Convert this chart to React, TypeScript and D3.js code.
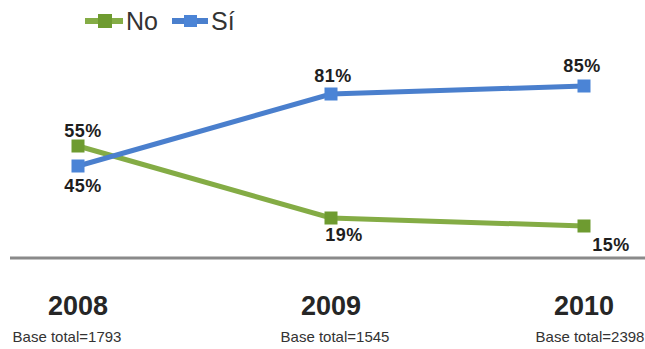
import React from "react";
import * as d3 from "d3";

const years = ["2008", "2009", "2010"];
const baseTotals = ["Base total=1793", "Base total=1545", "Base total=2398"];
const noValues = [55, 19, 15];
const siValues = [45, 81, 85];
const seriesNames = ["No", "Sí"];

const W = 645;
const H = 349;
const FONT = "'Liberation Sans', Arial, sans-serif";

const colors = {
  No: { line: "#84ac45", marker: "#6e9b30" },
  Sí: { line: "#4a7fcd", marker: "#4b84d6" },
};

// label offsets relative to the point (dx, dy to baseline)
const noLabelOffsets = [[5, -9], [13, 23], [27, 25]];
const siLabelOffsets = [[5, 26], [2, -12], [-2, -14]];
const baseOffsets = [-11, 4, 6];

export default function App() {
  const x = d3.scalePoint<string>().domain(years).range([78, 584]);
  const y = d3.scaleLinear().domain([0, 100]).range([256, 56]);

  const series = [
    { name: "No", values: noValues, offsets: noLabelOffsets },
    { name: "Sí", values: siValues, offsets: siLabelOffsets },
  ];

  const line = d3
    .line<number>()
    .x((_, i) => x(years[i]) as number)
    .y((d) => y(d));

  const m = 13;

  return (
    <svg
      width={W}
      height={H}
      style={{ position: "absolute", left: 0, top: 0, background: "#fff" }}
      fontFamily={FONT}
    >
      <rect x={0} y={0} width={W} height={H} fill="#fff" />
      {/* legend */}
      <g>
        <line x1={85} x2={123} y1={21} y2={21} stroke={colors.No.line} strokeWidth={6} />
        <rect x={98} y={14} width={14} height={14} fill={colors.No.marker} />
        <text x={126} y={30} fontSize={25} fill="#333">{seriesNames[0]}</text>
        <line x1={172} x2={208} y1={21} y2={21} stroke={colors.Sí.line} strokeWidth={6} />
        <rect x={184} y={15} width={13} height={12} fill={colors.Sí.marker} />
        <text x={211} y={30} fontSize={25} fill="#333">{seriesNames[1]}</text>
      </g>

      {/* axis line */}
      <line x1={10} x2={645} y1={y(0) + 2} y2={y(0) + 2} stroke="#8a8a8a" strokeWidth={3} />

      {/* series */}
      {series.map((s) => {
        const c = (colors as any)[s.name];
        return (
          <g key={s.name}>
            <path d={line(s.values) || ""} fill="none" stroke={c.line} strokeWidth={5} />
            {s.values.map((v, i) => (
              <rect
                key={i}
                x={(x(years[i]) as number) - m / 2}
                y={y(v) - m / 2}
                width={m}
                height={m}
                fill={c.marker}
              />
            ))}
          </g>
        );
      })}
      {series.map((s) =>
        s.values.map((v, i) => (
          <text
            key={s.name + i}
            x={(x(years[i]) as number) + s.offsets[i][0]}
            y={y(v) + s.offsets[i][1]}
            textAnchor="middle"
            fontSize={18}
            fontWeight="bold"
            fill="#1e1e1e"
            letterSpacing={0.5}
          >
            {v}%
          </text>
        ))
      )}

      {/* category labels */}
      {years.map((yr, i) => (
        <g key={yr}>
          <text
            x={x(yr) as number}
            y={315}
            textAnchor="middle"
            fontSize={27}
            fontWeight="bold"
            fill="#262626"
          >
            {yr}
          </text>
          <text
            x={(x(yr) as number) + baseOffsets[i]}
            y={342}
            textAnchor="middle"
            fontSize={15}
            fill="#333"
          >
            {baseTotals[i]}
          </text>
        </g>
      ))}
    </svg>
  );
}
